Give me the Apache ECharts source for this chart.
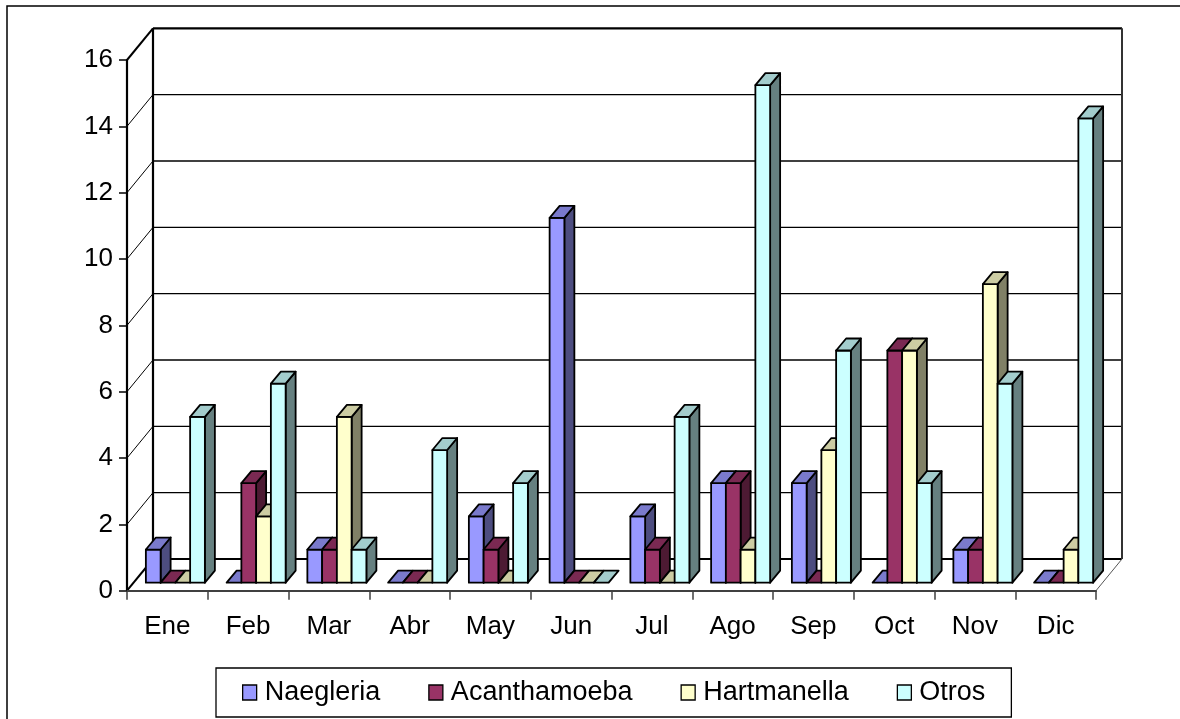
<!DOCTYPE html>
<html>
<head>
<meta charset="utf-8">
<script src="https://cdn.jsdelivr.net/npm/echarts@6/dist/echarts.min.js"></script>
<style>
  html, body { margin: 0; padding: 0; background: #ffffff; }
  #chart { width: 1180px; height: 719px; }
</style>
</head>
<body>
<div id="chart"></div>
<script>
// Monthly counts per amoeba group
const months = ['Ene', 'Feb', 'Mar', 'Abr', 'May', 'Jun', 'Jul', 'Ago', 'Sep', 'Oct', 'Nov', 'Dic'];
const naegleria    = [1, 0, 1, 0, 2, 11, 2, 3, 3, 0, 1, 0];
const acanthamoeba = [0, 3, 1, 0, 1, 0, 1, 3, 0, 7, 1, 0];
const hartmanella  = [0, 2, 5, 0, 0, 0, 0, 1, 4, 7, 9, 1];
const otros        = [5, 6, 1, 4, 3, 0, 5, 15, 7, 3, 6, 14];
const yTicks = [0, 2, 4, 6, 8, 10, 12, 14, 16];
const seriesNames = ['Naegleria', 'Acanthamoeba', 'Hartmanella', 'Otros'];

// Face shading of each 3D column: lit front, dimmer top, dark side
const faceColors = [
  { front: '#9999FF', top: '#7A7ACC', side: '#4D4D80' },
  { front: '#993366', top: '#7A2952', side: '#4D1A33' },
  { front: '#FFFFCC', top: '#CCCCA3', side: '#808066' },
  { front: '#CCFFFF', top: '#A3CCCC', side: '#668080' }
];

// Oblique projection used for the pseudo-3D look (pixels)
const WALL_DX = 26, WALL_DY = -31.7;   // full depth of the floor
const BAR_FX = 8, BAR_FY = -8;         // columns' front plane
const BAR_DX = 10, BAR_DY = -12;       // column depth
const BAR_FRAC = 0.1827;               // column width as share of a category band
const FONT = "'Liberation Sans', Arial, Helvetica, sans-serif";

function wallRenderer(params, api) {
  const cs = params.coordSys;
  const xl = cs.x, xr = cs.x + cs.width;
  const y0 = api.coord([0, 0])[1];
  const yTop = api.coord([0, yTicks[yTicks.length - 1]])[1];
  const children = [];
  // floor
  children.push({
    type: 'polygon',
    shape: { points: [[xl, y0], [xr, y0], [xr + WALL_DX, y0 + WALL_DY], [xl + WALL_DX, y0 + WALL_DY]] },
    style: { fill: '#ffffff' }
  });
  // back wall
  children.push({
    type: 'rect',
    shape: { x: xl + WALL_DX, y: yTop + WALL_DY, width: cs.width, height: y0 - yTop },
    style: { fill: '#ffffff' }
  });
  yTicks.forEach(function (t) {
    const y = api.coord([0, t])[1];
    const edge = (t === 0 || t === yTicks[yTicks.length - 1]);
    // gridline on back wall
    children.push({
      type: 'line',
      shape: { x1: xl + WALL_DX, y1: y + WALL_DY, x2: xr + WALL_DX, y2: y + WALL_DY },
      style: { stroke: '#000', lineWidth: edge ? 2.2 : 1.3 }
    });
    // gridline on the side wall
    children.push({
      type: 'line',
      shape: { x1: xl, y1: y, x2: xl + WALL_DX, y2: y + WALL_DY },
      style: { stroke: '#000', lineWidth: edge ? 2 : 1 }
    });
  });
  // back wall left and right edges
  children.push({
    type: 'line',
    shape: { x1: xl + WALL_DX, y1: yTop + WALL_DY, x2: xl + WALL_DX, y2: y0 + WALL_DY },
    style: { stroke: '#000', lineWidth: 2.2 }
  });
  children.push({
    type: 'line',
    shape: { x1: xr + WALL_DX, y1: yTop + WALL_DY, x2: xr + WALL_DX, y2: y0 + WALL_DY },
    style: { stroke: '#333', lineWidth: 2 }
  });
  // floor right edge
  children.push({
    type: 'line',
    shape: { x1: xr, y1: y0, x2: xr + WALL_DX, y2: y0 + WALL_DY },
    style: { stroke: '#555', lineWidth: 1 }
  });
  return { type: 'group', children: children };
}

function barRenderer(k) {
  return function (params, api) {
    const i = api.value(0), v = api.value(1);
    const base = api.coord([i, 0]);
    const top = api.coord([i, v]);
    const w = api.size([1, 0])[0] * BAR_FRAC;
    const x0 = base[0] - 2 * w + k * w + BAR_FX;
    const yb = base[1] + BAR_FY;
    const yt = top[1] + BAR_FY;
    const c = faceColors[k];
    const line = { stroke: '#000', lineWidth: 1.8, lineJoin: 'round' };
    const children = [];
    if (v > 0) {
      children.push({
        type: 'polygon',
        shape: { points: [[x0 + w, yt], [x0 + w + BAR_DX, yt + BAR_DY], [x0 + w + BAR_DX, yb + BAR_DY], [x0 + w, yb]] },
        style: Object.assign({ fill: c.side }, line)
      });
      children.push({
        type: 'rect',
        shape: { x: x0, y: yt, width: w, height: yb - yt },
        style: Object.assign({ fill: c.front }, line)
      });
    }
    children.push({
      type: 'polygon',
      shape: { points: [[x0, yt], [x0 + w, yt], [x0 + w + BAR_DX, yt + BAR_DY], [x0 + BAR_DX, yt + BAR_DY]] },
      style: Object.assign({ fill: c.top }, line)
    });
    return { type: 'group', children: children };
  };
}

const seriesData = [naegleria, acanthamoeba, hartmanella, otros];

const chart = echarts.init(document.getElementById('chart'), null, { renderer: 'canvas' });

const series = [{
  name: 'walls',
  type: 'custom',
  z: 1,
  silent: true,
  renderItem: wallRenderer,
  data: [[0, 0]]
}];
seriesData.forEach(function (vals, k) {
  series.push({
    name: seriesNames[k],
    type: 'custom',
    z: 2,
    itemStyle: { color: faceColors[k].front },
    renderItem: barRenderer(k),
    data: vals.map(function (v, i) { return [i, v]; })
  });
});

chart.setOption({
  animation: false,
  backgroundColor: '#ffffff',
  textStyle: { fontFamily: FONT },
  grid: { left: 127, top: 60, width: 969, height: 530.7, containLabel: false },
  xAxis: {
    type: 'category',
    data: months,
    boundaryGap: true,
    z: 5,
    axisLine: { show: true, lineStyle: { color: '#404040', width: 2 } },
    axisTick: { show: true, length: 9, lineStyle: { color: '#404040', width: 1.5 } },
    axisLabel: { fontSize: 26, color: '#000', fontFamily: FONT, margin: 23 },
    splitLine: { show: false }
  },
  yAxis: {
    type: 'value',
    min: 0,
    max: 16,
    interval: 2,
    z: 5,
    axisLine: { show: true, lineStyle: { color: '#000', width: 2.2 } },
    axisTick: { show: true, length: 8, lineStyle: { color: '#000', width: 1.5 } },
    axisLabel: { fontSize: 26, color: '#000', fontFamily: FONT, margin: 14 },
    splitLine: { show: false }
  },
  legend: {
    left: 216,
    top: 668,
    orient: 'horizontal',
    selectedMode: false,
    itemWidth: 14,
    itemHeight: 15,
    itemGap: 48,
    padding: [11, 26, 11, 26],
    borderColor: '#000',
    borderWidth: 1.3,
    textStyle: { fontSize: 27, color: '#000', fontFamily: FONT, padding: [0, 0, 0, 3] },
    data: seriesNames.map(function (n, k) {
      return { name: n, icon: 'rect', itemStyle: { color: faceColors[k].front, borderColor: '#000', borderWidth: 1.3 } };
    })
  },
  graphic: [{
    type: 'rect',
    silent: true,
    z: -1,
    shape: { x: 7, y: 6, width: 1200, height: 800 },
    style: { fill: 'none', stroke: '#000', lineWidth: 1.5 }
  }],
  series: series
});
</script>
</body>
</html>
